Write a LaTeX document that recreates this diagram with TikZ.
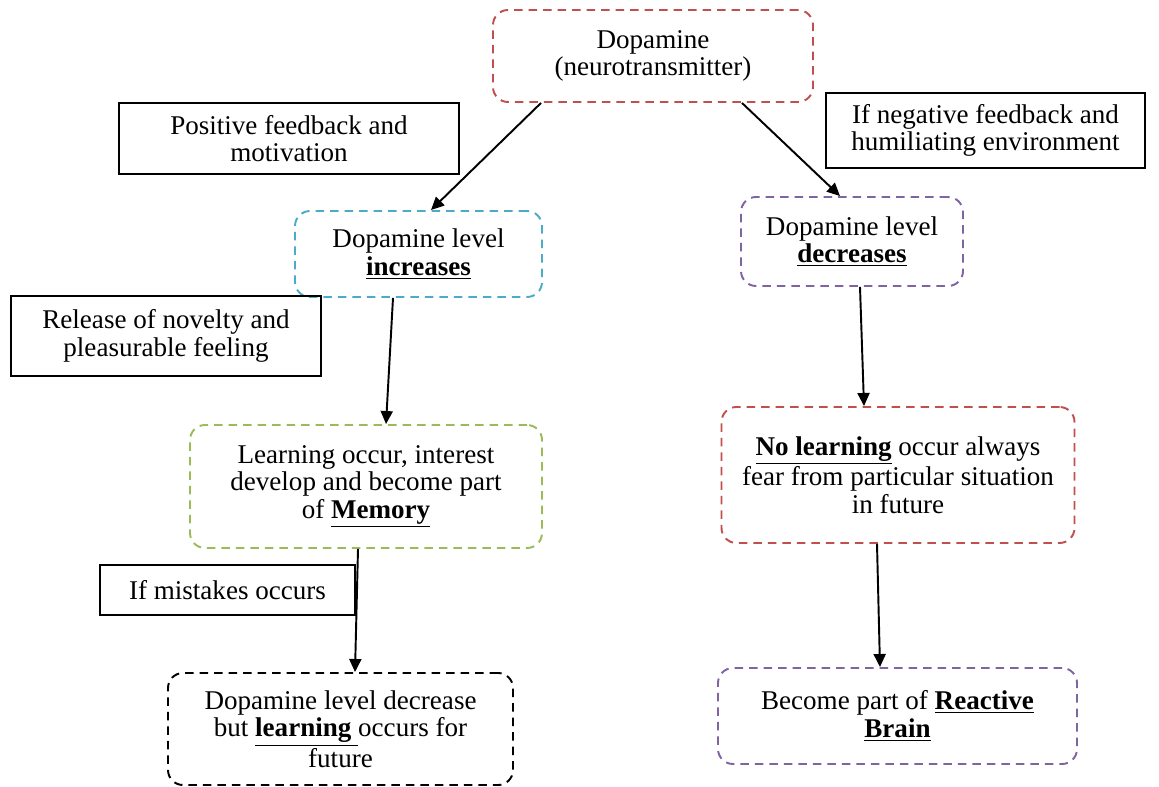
\documentclass[tikz,border=0pt]{standalone}
\usepackage{fontspec}
\setmainfont{Liberation Serif}
\usetikzlibrary{shapes,arrows.meta}
\definecolor{boxRed}{RGB}{192,80,77}
\definecolor{boxCyan}{RGB}{75,172,198}
\definecolor{boxGreen}{RGB}{155,187,89}
\definecolor{boxPurple}{RGB}{128,100,162}
\newcommand{\keyword}[1]{\underline{\textbf{#1}}}
\tikzstyle{stage} = [rectangle, draw, text centered, align=center, rounded corners=0.3cm,
dash pattern=on 0.17cm off 0.12cm, line width=1.1pt, inner sep=0pt, font=\fontsize{15.4}{15.8}\selectfont]
\tikzstyle{note} = [rectangle, draw, text centered, align=center, line width=0.8pt,
inner sep=0pt, font=\fontsize{15.4}{15.8}\selectfont]
\tikzstyle{line} = [draw, line width=1.1pt, -{Triangle[length=0.26cm,width=0.24cm]}]
\begin{document}
\begin{tikzpicture}

   \useasboundingbox (0,0) rectangle (23.18,-15.74);

   \node[stage, boxRed, text=black, minimum width=6.4cm, minimum height=1.84cm] (dopa) at (13.06,-1.12) {Dopamine\\(neurotransmitter)};

   \node[note, minimum width=6.8cm, minimum height=1.42cm] (posFb) at (5.78,-2.77) {Positive feedback and\\motivation};
   \node[note, minimum width=6.38cm, minimum height=1.5cm] (negFb) at (19.71,-2.61) {If negative feedback and\\humiliating environment};

   % Left branch
   \node[stage, boxCyan, text=black, minimum width=4.94cm, minimum height=1.72cm] (levelUp) at (8.37,-5.08) {Dopamine level\\\keyword{increases}};
   \node[note, minimum width=6.2cm, minimum height=1.6cm] (release) at (3.32,-6.72) {Release of novelty and\\pleasurable feeling};
   \node[stage, boxGreen, text=black, minimum width=7.04cm, minimum height=2.46cm] (memory) at (7.32,-9.73) {Learning occur, interest\\develop and become part\\of \keyword{Memory}};
   \node[note, minimum width=5.1cm, minimum height=1cm] (mistakes) at (4.55,-11.8) {If mistakes occurs};
   \node[stage, black, minimum width=6.9cm, minimum height=2.24cm] (learnFuture) at (6.81,-14.58) {Dopamine level decrease\\but \keyword{learning }occurs for\\future};

   % Right branch
   \node[stage, boxPurple, text=black, minimum width=4.44cm, minimum height=1.78cm] (levelDown) at (17.04,-4.83) {Dopamine level\\\keyword{decreases}};
   \node[stage, boxRed, text=black, minimum width=7.06cm, minimum height=2.72cm] (noLearn) at (17.96,-9.5) {\keyword{No learning} occur always\\fear from particular situation\\in future};
   \node[stage, boxPurple, text=black, minimum width=7.18cm, minimum height=1.92cm] (reactive) at (17.95,-14.32) {Become part of \keyword{Reactive}\\\keyword{Brain}};

   %% Lines
   \path[line] ([xshift=-2.24cm]dopa.south) -- ([xshift=0.25cm]levelUp.north);
   \path[line] ([xshift=1.78cm]dopa.south) -- ([xshift=-0.24cm]levelDown.north);
   \path[line] ([xshift=-0.51cm]levelUp.south) -- ([xshift=0.4cm]memory.north);
   \path[line] ([xshift=-0.16cm]memory.south) -- ([xshift=0.29cm]learnFuture.north);
   \path[line] ([xshift=0.16cm]levelDown.south) -- ([xshift=-0.68cm]noLearn.north);
   \path[line] ([xshift=-0.42cm]noLearn.south) -- ([xshift=-0.35cm]reactive.north);

\end{tikzpicture}
\end{document}
